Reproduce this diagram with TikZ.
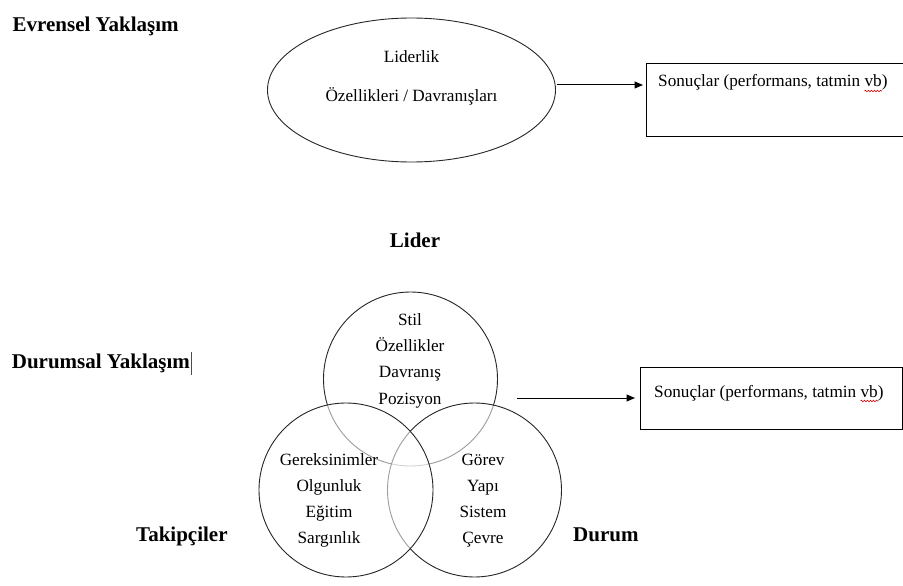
\documentclass[tikz,border=0pt]{standalone}
\usepackage{fontspec}
\setmainfont{Liberation Serif}
\usetikzlibrary{shapes.geometric,arrows.meta,decorations.pathmorphing}
\begin{document}
\begin{tikzpicture}[x=1pt,y=-1pt,
  heading/.style={font=\fontsize{21}{24}\selectfont\bfseries, anchor=base west, inner sep=0pt},
  txt/.style={font=\fontsize{17.2}{20}\selectfont, anchor=base, inner sep=0pt},
  boxtxt/.style={txt, anchor=base west},
  outline/.style={draw=black!85, line width=0.9pt},
  resultbox/.style={outline, draw=black, rectangle, anchor=north west, inner sep=0pt},
  venn/.style={outline, circle, minimum size=174pt, inner sep=0pt, fill=white, fill opacity=0.55},
  flow/.style={draw=black, line width=1pt, -{Triangle[length=8.5pt,width=7pt]}},
  squig/.style={draw=red!85!black, line width=0.6pt,
    decorate, decoration={snake, segment length=3pt, amplitude=0.8pt}},
]
\useasboundingbox (0,0) rectangle (903,586);

% --- universal approach ---
\node[heading] (h1) at (12.5,31.5) {Evrensel Yaklaşım};
\node[outline, ellipse, minimum width=288pt, minimum height=144pt, inner sep=0pt] (ell) at (411.5,90) {};
\node[txt] (e1) at (411.5,63) {Liderlik};
\node[txt] (e2) at (411.5,102) {Özellikleri / Davranışları};

\node[resultbox, minimum width=257pt, minimum height=73pt] (res1) at (645.5,63) {};
\node[boxtxt] (r1t) at (658,87) {Sonuçlar (performans, tatmin vb)};
\draw[squig] (864.5,91) -- (882,91);

\coordinate (a1) at (557,85);
\draw[flow, shorten >=2.5pt] (a1) -- (a1 -| res1.west);

% --- situational approach ---
\node[heading] (h2) at (11.7,368) {Durumsal Yaklaşım};
\draw[line width=0.9pt, black!70] (191.5,352) -- (191.5,375);

\node[heading, anchor=base] (lid) at (415,247) {Lider};
\node[heading] (tak) at (136,541) {Takipçiler};
\node[heading] (dur) at (573,541) {Durum};

\node[venn] (lead) at (410.5,379) {};
\node[venn] (sit) at (474.5,490) {};
\node[venn] (fol) at (346,490) {};

\node[txt] (l1) at (410,325) {Stil};
\node[txt] (l2) at (410,351.3) {Özellikler};
\node[txt] (l3) at (410,377.6) {Davranış};
\node[txt] (l4) at (410,404) {Pozisyon};

\node[txt] (f1) at (329,465) {Gereksinimler};
\node[txt] (f2) at (329,491) {Olgunluk};
\node[txt] (f3) at (329,517) {Eğitim};
\node[txt] (f4) at (329,543) {Sargınlık};

\node[txt] (s1) at (483,465) {Görev};
\node[txt] (s2) at (483,491) {Yapı};
\node[txt] (s3) at (483,517) {Sistem};
\node[txt] (s4) at (483,543) {Çevre};

\node[resultbox, minimum width=262pt, minimum height=62pt] (res2) at (640,367) {};
\node[boxtxt] (r2t) at (654,397) {Sonuçlar (performans, tatmin vb)};
\draw[squig] (860.5,401) -- (878,401);

\coordinate (a2) at (517,398);
\draw[flow, shorten >=5pt] (a2) -- (a2 -| res2.west);
\end{tikzpicture}
\end{document}
